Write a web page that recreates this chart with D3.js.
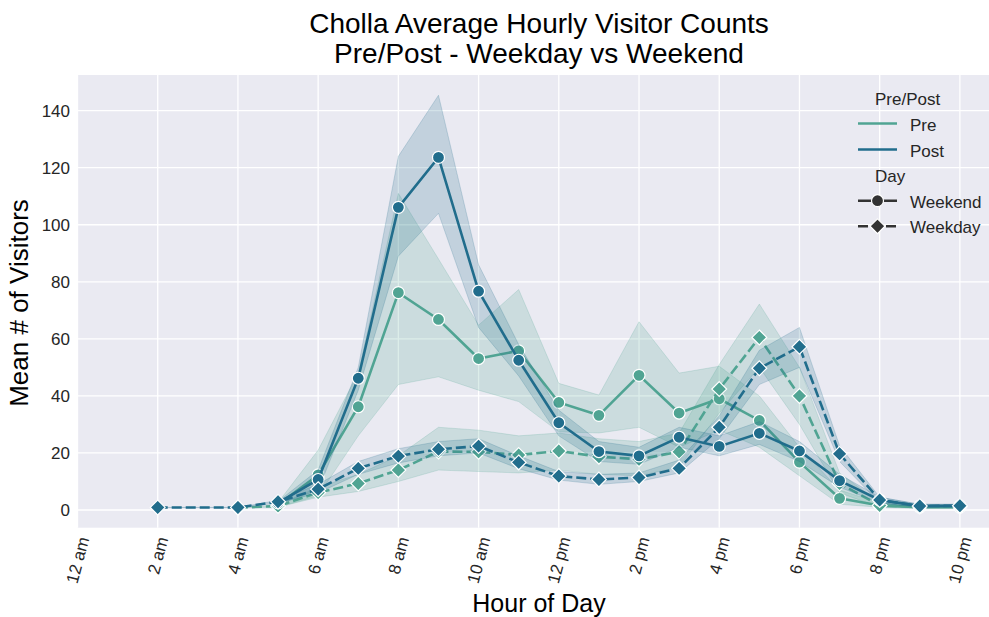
<!DOCTYPE html>
<html>
<head>
<meta charset="utf-8">
<script src="https://cdn.jsdelivr.net/npm/d3@7"></script>
<style>
  html, body { margin: 0; padding: 0; background: #ffffff; }
  svg { display: block; font-family: "Liberation Sans", Arial, sans-serif; }
</style>
</head>
<body>
<svg id="chart" width="989" height="617"></svg>
<script>
// ---------- data ----------
const hours = [2, 4, 5, 6, 7, 8, 9, 10, 11, 12, 13, 14, 15, 16, 17, 18, 19, 20, 21, 22];
const xTickValues = [0, 2, 4, 6, 8, 10, 12, 14, 16, 18, 20, 22];
const xTickLabels = ["12 am", "2 am", "4 am", "6 am", "8 am", "10 am", "12 pm", "2 pm", "4 pm", "6 pm", "8 pm", "10 pm"];
const yTickValues = [0, 20, 40, 60, 80, 100, 120, 140];

// Pre / Weekend
const preWeekendMean = [null, null, 1.8, 12.3, 36.2, 76.2, 66.8, 53.1, 55.8, 37.7, 33.2, 47.2, 34.0, 39.0, 31.4, 16.8, 4.1, 1.6, 1.0, 1.0];
const preWeekendLo   = [null, null, 1.0, 5.0, 26.0, 44.0, 46.7, 42.0, 38.0, 27.4, 27.0, 29.0, 22.0, 28.0, 22.0, 12.0, 2.0, 1.0, 0.5, 0.5];
const preWeekendHi   = [null, null, 2.6, 21.0, 48.0, 111.0, 88.0, 64.8, 77.3, 44.4, 40.3, 66.0, 48.0, 50.4, 40.0, 22.0, 7.0, 2.5, 1.5, 1.5];

// Pre / Weekday
const preWeekdayMean = [null, 0.8, 1.4, 6.1, 9.3, 14.0, 20.5, 20.4, 19.3, 20.7, 18.7, 17.8, 20.4, 42.4, 60.5, 40.0, 9.3, 1.6, 1.2, 1.2];
const preWeekdayLo   = [null, 0.8, 1.0, 4.5, 6.5, 10.0, 14.0, 13.5, 13.0, 14.0, 12.5, 12.0, 15.0, 34.0, 50.0, 30.0, 6.0, 1.0, 0.8, 0.8];
const preWeekdayHi   = [null, 0.8, 1.8, 8.0, 12.5, 19.0, 29.0, 28.0, 26.0, 27.0, 25.0, 24.0, 27.0, 51.0, 72.2, 50.0, 13.0, 2.5, 1.6, 1.6];

// Post / Weekend
const postWeekendMean = [null, null, 2.5, 10.7, 46.2, 106.1, 123.6, 76.7, 52.5, 30.6, 20.5, 19.0, 25.5, 22.3, 26.9, 20.7, 10.3, 3.5, 1.4, 1.5];
const postWeekendLo   = [null, null, 2.0, 7.0, 42.0, 89.0, 104.0, 64.0, 47.0, 26.0, 17.0, 16.0, 22.0, 19.0, 23.0, 17.0, 8.0, 2.5, 1.0, 1.0];
const postWeekendHi   = [null, null, 3.0, 14.0, 50.0, 124.0, 145.4, 86.0, 58.0, 35.0, 24.0, 22.0, 29.0, 26.0, 31.0, 24.0, 12.5, 4.5, 2.0, 2.0];

// Post / Weekday
const postWeekdayMean = [0.9, 0.9, 2.9, 7.3, 14.6, 18.9, 21.3, 22.4, 16.7, 11.9, 10.7, 11.4, 14.6, 29.0, 49.7, 57.2, 19.7, 3.5, 1.4, 1.5];
const postWeekdayLo   = [0.9, 0.9, 2.4, 6.0, 12.5, 16.5, 19.0, 20.0, 14.5, 10.5, 9.0, 10.0, 13.0, 25.0, 44.0, 50.0, 17.0, 2.5, 1.0, 1.0];
const postWeekdayHi   = [0.9, 0.9, 3.4, 9.0, 17.0, 21.5, 24.0, 25.0, 19.0, 13.5, 12.5, 13.0, 17.5, 33.0, 56.0, 64.0, 22.5, 4.5, 2.0, 2.0];

const prePostLevels = ["Pre", "Post"];
const dayLevels = ["Weekend", "Weekday"];
const colors = { Pre: "#50a493", Post: "#216d8c" };

const groups = [
  { pp: "Pre",  day: "Weekend", mean: preWeekendMean,  lo: preWeekendLo,  hi: preWeekendHi },
  { pp: "Pre",  day: "Weekday", mean: preWeekdayMean,  lo: preWeekdayLo,  hi: preWeekdayHi },
  { pp: "Post", day: "Weekend", mean: postWeekendMean, lo: postWeekendLo, hi: postWeekendHi },
  { pp: "Post", day: "Weekday", mean: postWeekdayMean, lo: postWeekdayLo, hi: postWeekdayHi }
];

// ---------- layout ----------
const svg = d3.select("#chart");
const plot = { left: 77.5, top: 75, right: 1000, bottom: 527.7 };

const x = d3.scaleLinear().domain([0, 23]).range([plot.left, plot.right]);
const y = d3.scaleLinear().domain([-6.2, 152.5]).range([plot.bottom, plot.top]);

svg.append("defs").append("clipPath").attr("id", "clip")
  .append("rect").attr("x", plot.left).attr("y", plot.top)
  .attr("width", plot.right - plot.left).attr("height", plot.bottom - plot.top);

svg.append("rect")
  .attr("x", plot.left).attr("y", plot.top)
  .attr("width", plot.right - plot.left).attr("height", plot.bottom - plot.top)
  .attr("fill", "#eaeaf2");

// grid
const grid = svg.append("g");
grid.selectAll(".vg").data(xTickValues).join("line")
  .attr("x1", d => x(d)).attr("x2", d => x(d))
  .attr("y1", plot.top).attr("y2", plot.bottom)
  .attr("stroke", "#ffffff").attr("stroke-width", 1.3);
grid.selectAll(".hg").data(yTickValues).join("line")
  .attr("x1", plot.left).attr("x2", plot.right)
  .attr("y1", d => y(d)).attr("y2", d => y(d))
  .attr("stroke", "#ffffff").attr("stroke-width", 1.3);

// axes (labels only, via d3 axes)
const yAxis = svg.append("g").attr("transform", `translate(${plot.left},0)`)
  .call(d3.axisLeft(y).tickValues(yTickValues).tickSize(0).tickPadding(7.5));
yAxis.select(".domain").remove();
yAxis.selectAll("text").attr("font-size", 17).attr("fill", "#262626")
  .attr("font-family", "Liberation Sans, Arial, sans-serif");

const xAxis = svg.append("g").attr("transform", `translate(0,${plot.bottom})`)
  .call(d3.axisBottom(x).tickValues(xTickValues).tickSize(0)
    .tickFormat((d, i) => xTickLabels[i]));
xAxis.select(".domain").remove();
xAxis.selectAll("text")
  .attr("font-size", 17).attr("fill", "#262626")
  .attr("font-family", "Liberation Sans, Arial, sans-serif")
  .attr("text-anchor", "middle").attr("dy", null).attr("y", null)
  .attr("dominant-baseline", "central")
  .each(function () {
    const w = this.getComputedTextLength();
    const h = 13;
    const a = 75 * Math.PI / 180;
    const bh = w * Math.sin(a) + h * Math.cos(a);
    d3.select(this).attr("transform", `translate(0,${8 + bh / 2}) rotate(-75)`);
  });

// series
const content = svg.append("g").attr("clip-path", "url(#clip)");
groups.forEach(g => {
  const pts = hours.map((h, i) => ({ h, m: g.mean[i], lo: g.lo[i], hi: g.hi[i] }))
    .filter(p => p.m !== null);
  const col = colors[g.pp];
  const area = d3.area().x(d => x(d.h)).y0(d => y(d.lo)).y1(d => y(d.hi));
  content.append("path").datum(pts).attr("d", area)
    .attr("fill", col).attr("fill-opacity", 0.2)
    .attr("stroke", col).attr("stroke-opacity", 0.2).attr("stroke-width", 1);
  const line = d3.line().x(d => x(d.h)).y(d => y(d.m));
  content.append("path").datum(pts).attr("d", line)
    .attr("fill", "none").attr("stroke", col).attr("stroke-width", 2.6)
    .attr("stroke-dasharray", g.day === "Weekday" ? "10,4" : null);
  if (g.day === "Weekend") {
    content.selectAll(null).data(pts).join("circle")
      .attr("cx", d => x(d.h)).attr("cy", d => y(d.m)).attr("r", 6)
      .attr("fill", col).attr("stroke", "#ffffff").attr("stroke-width", 1.2);
  } else {
    const s = 7.4;
    content.selectAll(null).data(pts).join("path")
      .attr("d", d => `M${x(d.h)},${y(d.m) - s}L${x(d.h) + s},${y(d.m)}L${x(d.h)},${y(d.m) + s}L${x(d.h) - s},${y(d.m)}Z`)
      .attr("fill", col).attr("stroke", "#ffffff").attr("stroke-width", 1.2);
  }
});

// titles
const title = svg.append("text").attr("x", 539).attr("text-anchor", "middle")
  .attr("font-size", 28).attr("fill", "#000");
title.append("tspan").attr("x", 539).attr("y", 33).text("Cholla Average Hourly Visitor Counts");
title.append("tspan").attr("x", 539).attr("y", 63).text("Pre/Post - Weekday vs Weekend");

svg.append("text").attr("x", 539).attr("y", 612).attr("text-anchor", "middle")
  .attr("font-size", 25).attr("fill", "#000").text("Hour of Day");

svg.append("text").attr("transform", "translate(28,303) rotate(-90)")
  .attr("text-anchor", "middle").attr("font-size", 26).attr("fill", "#000")
  .text("Mean # of Visitors");

// legend
const lg = svg.append("g").attr("font-size", 17).attr("fill", "#262626");
lg.append("text").attr("x", 875).attr("y", 105).text("Pre/Post");
prePostLevels.forEach((lv, i) => {
  const yy = 123.5 + i * 26;
  lg.append("line").attr("x1", 858).attr("x2", 897).attr("y1", yy).attr("y2", yy)
    .attr("stroke", colors[lv]).attr("stroke-width", 2.6);
  lg.append("text").attr("x", 910).attr("y", yy + 7).text(lv);
});
lg.append("text").attr("x", 875).attr("y", 182).text("Day");
dayLevels.forEach((lv, i) => {
  const yy = 200.7 + i * 25.5;
  lg.append("line").attr("x1", 858).attr("x2", 897).attr("y1", yy).attr("y2", yy)
    .attr("stroke", "#333333").attr("stroke-width", 2.6)
    .attr("stroke-dasharray", lv === "Weekday" ? "10,4" : null);
  if (lv === "Weekend") {
    lg.append("circle").attr("cx", 877.5).attr("cy", yy).attr("r", 6)
      .attr("fill", "#333333").attr("stroke", "#ffffff").attr("stroke-width", 1.2);
  } else {
    const s = 7.4, cx = 877.5;
    lg.append("path").attr("d", `M${cx},${yy - s}L${cx + s},${yy}L${cx},${yy + s}L${cx - s},${yy}Z`)
      .attr("fill", "#333333").attr("stroke", "#ffffff").attr("stroke-width", 1.2);
  }
  lg.append("text").attr("x", 910).attr("y", yy + 7).text(lv);
});
</script>
</body>
</html>
